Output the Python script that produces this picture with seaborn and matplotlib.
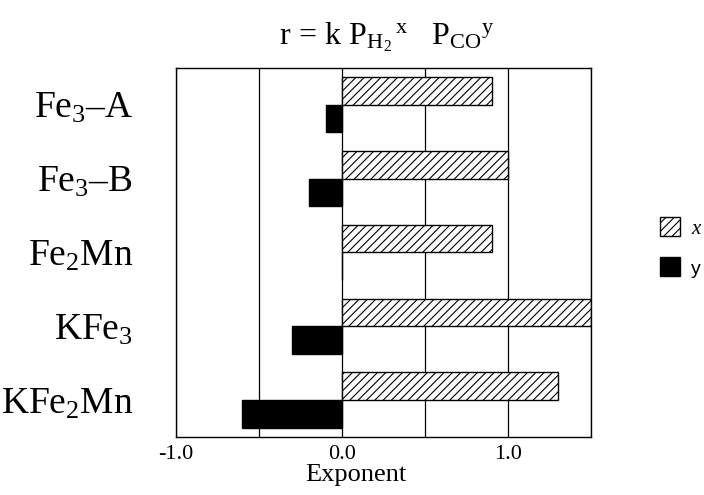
import matplotlib
matplotlib.use('Agg')
import matplotlib.pyplot as plt
import seaborn as sns
import pandas as pd

categories = ['Fe$_3$–A', 'Fe$_3$–B', 'Fe$_2$Mn', 'KFe$_3$', 'KFe$_2$Mn']
x_exponent = [0.9, 1.0, 0.9, 1.5, 1.3]
y_exponent = [-0.1, -0.2, 0.0, -0.3, -0.6]
tick_values = [-1.0, -0.5, 0.0, 0.5, 1.0, 1.5]
tick_labels = ['-1.0', '', '0.0', '', '1.0', '']

sns.set_style('white')
plt.rcParams['font.family'] = ['Liberation Serif', 'DejaVu Serif']
plt.rcParams['mathtext.fontset'] = 'custom'
plt.rcParams['mathtext.rm'] = 'Liberation Serif'
plt.rcParams['mathtext.it'] = 'Liberation Serif:italic'
plt.rcParams['hatch.linewidth'] = 0.8
plt.rcParams['text.color'] = 'black'
plt.rcParams['axes.labelcolor'] = 'black'
plt.rcParams['xtick.color'] = 'black'
plt.rcParams['ytick.color'] = 'black'

df = pd.DataFrame({
    'compound': categories * 2,
    'param': ['x'] * len(categories) + ['y'] * len(categories),
    'value': x_exponent + y_exponent,
})

fig = plt.figure(figsize=(7.04, 4.95), dpi=100)
ax = fig.add_axes([0.25, 0.117, 0.59, 0.746])

sns.barplot(data=df, x='value', y='compound', hue='param', orient='h',
            width=0.75, palette=['white', 'black'], edgecolor='black',
            linewidth=1.0, legend=False, ax=ax)

x_bars, y_bars = ax.containers[0], ax.containers[1]
for p in x_bars:
    p.set_hatch('////')
    p.set_facecolor('white')
for p in y_bars:
    p.set_facecolor('black')

ax.set_xlim(-1.0, 1.5)
ax.set_ylim(4.5, -0.5)
ax.set_xticks(tick_values)
ax.set_xticklabels(tick_labels, fontsize=16)
ax.tick_params(axis='both', length=0)
ax.tick_params(axis='y', labelsize=27, pad=31)
ax.tick_params(axis='x', pad=6)
ax.grid(axis='x', color='black', linewidth=0.9)
ax.set_axisbelow(True)
for s in ax.spines.values():
    s.set_color('black')
    s.set_linewidth(1.0)
ax.set_xlabel('Exponent', fontsize=19)
ax.xaxis.set_label_coords(0.434, -0.072)
ax.set_ylabel('')

fig.text(0.549, 0.925,
         r'r$\,=\,$k P$_{\mathrm{H_2}}$$^{\,\mathrm{x}}$   P$_{\mathrm{CO}}$$^{\mathrm{y}}$',
         ha='center', va='center', fontsize=23)

leg = fig.legend([x_bars[0], y_bars[0]], ['x', 'y'], loc='center left',
                 bbox_to_anchor=(0.937, 0.5), frameon=False, fontsize=15,
                 handlelength=1.0, handleheight=1.0, labelspacing=0.9,
                 handletextpad=0.5, borderpad=0, borderaxespad=0)
leg.get_texts()[0].set_fontstyle('italic')
leg.get_texts()[1].set_fontfamily('Liberation Sans')
leg.get_texts()[1].set_fontsize(14)

fig.savefig('out.png', dpi=100, facecolor='white')
